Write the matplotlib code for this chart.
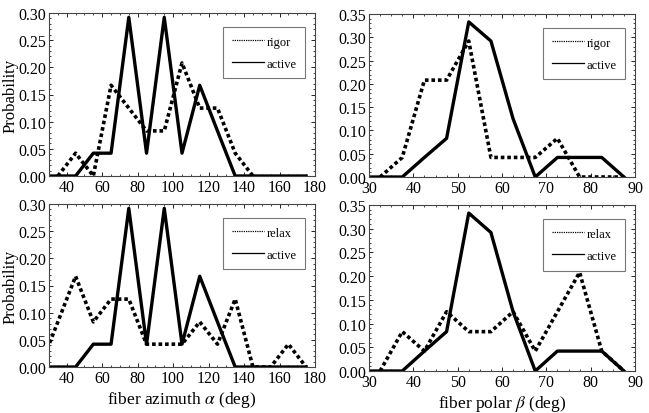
import matplotlib.pyplot as plt
from matplotlib.ticker import MultipleLocator

plt.rcParams['font.family'] = ['Liberation Serif', 'DejaVu Serif']
plt.rcParams['mathtext.fontset'] = 'stix'

# dane: rozkład azymutu (alpha)
alpha_x = [25, 35, 45, 55, 65, 75, 85, 95, 105, 115, 125, 135, 145, 155, 165, 175]
alpha_active = [0, 0, 0, 0.042, 0.042, 0.292, 0.042, 0.292, 0.042, 0.167, 0.083, 0, 0, 0, 0, 0]
alpha_rigor = [None, 0, 0.042, 0, 0.167, 0.125, 0.083, 0.083, 0.208, 0.125, 0.125, 0.042, 0,
               None, None, None]
alpha_relax = [0, 0.083, 0.167, 0.083, 0.125, 0.125, 0.042, 0.042, 0.042, 0.083, 0.042, 0.125, 0,
               0, 0.042, 0]

# dane: rozkład kąta biegunowego (beta)
beta_x = [27.5, 32.5, 37.5, 42.5, 47.5, 52.5, 57.5, 62.5, 67.5, 72.5, 77.5, 82.5, 87.5]
beta_active = [0, 0, 0, 0.042, 0.083, 0.333, 0.292, 0.125, 0, 0.042, 0.042, 0.042, 0]
beta_rigor = [None, 0, 0.042, 0.208, 0.208, 0.292, 0.042, 0.042, 0.042, 0.083, 0, 0, 0]
beta_relax = [None, 0, 0.083, 0.042, 0.125, 0.083, 0.083, 0.125, 0.042, 0.125, 0.208, 0.042, 0]


def clean(x, y):
    pts = [(a, b) for a, b in zip(x, y) if b is not None]
    return [p[0] for p in pts], [p[1] for p in pts]


fig = plt.figure(figsize=(6.49, 4.14), dpi=100)
W, H = 649, 414

# pozycje osi w pikselach: (lewo, góra, prawo, dół)
boxes = [(49, 14, 315, 177), (369, 15, 635, 178), (49, 205, 315, 368), (369, 206, 635, 372)]
axes = []
for l, t, r, b in boxes:
    axes.append(fig.add_axes([l / W, 1 - b / H, (r - l) / W, (b - t) / H]))

panels = [
    (axes[0], alpha_x, alpha_rigor, 'rigor', (30, 180), 0.30, 20),
    (axes[1], beta_x, beta_rigor, 'rigor', (30, 90), 0.35, 10),
    (axes[2], alpha_x, alpha_relax, 'relax', (30, 180), 0.30, 20),
    (axes[3], beta_x, beta_relax, 'relax', (30, 90), 0.35, 10),
]

for i, (ax, x, y, lab, xlim, ymax, xstep) in enumerate(panels):
    active = alpha_active if xlim[1] == 180 else beta_active
    xd, yd = clean(x, y)
    ax.plot(xd, yd, color='black', linestyle=(0, (1.0, 0.8)), linewidth=2.6, label=lab)
    ax.plot(x, active, color='black', linestyle='-', linewidth=2.4, label='active')
    ax.set_xlim(*xlim)
    ax.set_ylim(0, ymax)
    ax.xaxis.set_major_locator(MultipleLocator(xstep))
    ax.xaxis.set_minor_locator(MultipleLocator(xstep / 4))
    ax.yaxis.set_major_locator(MultipleLocator(0.05))
    ax.yaxis.set_minor_locator(MultipleLocator(0.01))
    ax.yaxis.set_major_formatter(plt.FormatStrFormatter('%.2f'))
    ax.tick_params(which='both', direction='in', top=True, right=True, labelsize=11.5,
                   pad=2)
    ax.tick_params(which='major', length=3, width=0.6)
    ax.tick_params(which='minor', length=1.5, width=0.5)
    for s in ax.spines.values():
        s.set_linewidth(0.8)
        s.set_color('#444444')

    leg = ax.legend(loc='upper left', bbox_to_anchor=(0.654, 0.915),
                    fontsize=9, frameon=True, fancybox=False,
                    handlelength=2.6, handletextpad=0.2, labelspacing=0.8,
                    borderaxespad=0, borderpad=0.7)
    leg.get_frame().set_edgecolor('#555555')
    leg.get_frame().set_linewidth(0.8)
    for h in leg.get_lines():
        h.set_linewidth(0.9)

axes[0].set_ylabel('Probability', fontsize=12, labelpad=0)
axes[2].set_ylabel('Probability', fontsize=12, labelpad=0)
axes[2].set_xlabel(r'fiber azimuth $\alpha$ (deg)', fontsize=12.5, labelpad=2)
axes[3].set_xlabel(r'fiber polar $\beta$ (deg)', fontsize=12.5, labelpad=2)

plt.savefig('out.png', dpi=100)
plt.close()
